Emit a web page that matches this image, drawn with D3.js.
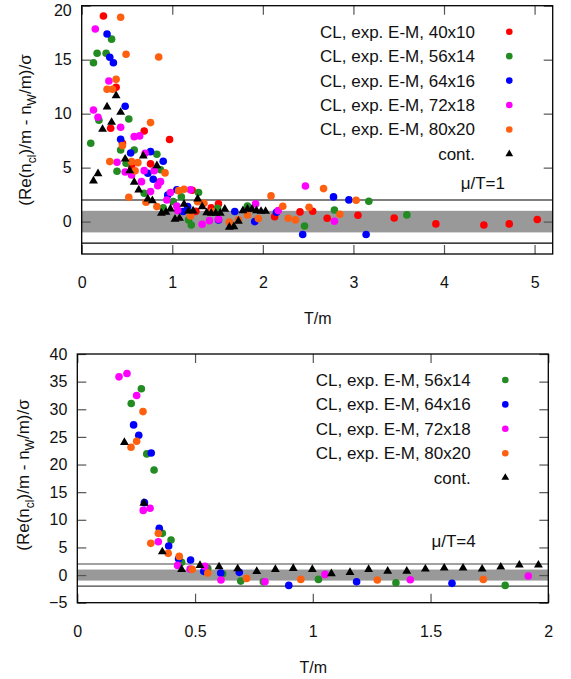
<!DOCTYPE html>
<html>
<head>
<meta charset="utf-8">
<script src="https://cdn.jsdelivr.net/npm/d3@7"></script>
<style>
  html, body { margin: 0; padding: 0; background: #fff; }
  svg { display: block; font-family: "Liberation Sans", Arial, Helvetica, sans-serif; }
</style>
</head>
<body>
<svg id="chart" width="571" height="679"></svg>
<script>
// ---------------- DATA ----------------
// Panel 1: mu/T = 1   (each entry: [T/m, value])
const mu1_40x10 = [[0.24,19.05],[0.38,12.44],[0.32,8.65],[0.45,7.26],[0.69,8.4],[0.97,7.6],[0.76,5.35],[0.86,3.67],[0.55,5.1],[1.22,2.9],[1.26,0.95],[1.43,1.27],[1.51,1.64],[2.13,0.46],[2.41,0.9],[2.55,0.96],[2.71,0.31],[3.05,0.59],[3.45,0.34],[3.91,-0.21],[4.44,-0.31],[4.72,-0.21],[5.03,0.19]];
const mu1_56x14 = [[0.13,14.72],[0.17,15.59],[0.27,15.59],[0.33,16.9],[0.10,7.26],[0.19,9.39],[0.52,9.5],[0.43,6.64],[0.39,4.67],[0.58,6.64],[0.49,5.4],[0.83,6.24],[0.87,4.8],[0.69,2.63],[0.90,1.27],[1.01,1.85],[1.10,2.31],[1.29,2.69],[1.18,0.16],[1.21,-0.31],[1.50,1.24],[1.83,1.45],[2.46,-0.4],[2.79,1.08],[3.17,1.89],[3.59,0.62]];
const mu1_64x16 = [[0.28,17.38],[0.31,15.22],[0.35,14.72],[0.48,10.68],[0.43,7.63],[0.54,6.36],[0.76,6.48],[0.73,4.48],[0.79,3.93],[0.90,5.59],[0.95,2.47],[1.05,2.94],[1.12,0.93],[1.17,1.4],[1.51,0.16],[1.69,0.93],[1.91,0.0],[2.15,0.87],[2.44,-1.2],[2.78,2.29],[2.95,2.01],[3.14,-1.2]];
const mu1_72x18 = [[0.15,17.84],[0.13,10.34],[0.18,9.67],[0.30,13.03],[0.43,8.74],[0.39,5.5],[0.58,7.87],[0.64,7.94],[0.48,4.6],[0.55,4.32],[0.66,3.7],[0.69,4.72],[0.70,6.33],[0.76,2.78],[0.80,4.72],[0.84,3.33],[0.87,3.7],[0.94,2.0],[0.98,2.69],[1.05,1.45],[1.06,1.02],[1.20,2.94],[1.33,-0.24],[1.41,0.09],[1.51,0.22],[1.92,1.64],[2.17,1.02],[2.47,3.3],[2.79,0.04]];
const mu1_80x20 = [[0.43,18.93],[0.49,15.5],[0.85,15.25],[0.38,13.18],[0.28,12.26],[0.34,12.26],[0.45,7.04],[0.76,9.17],[0.31,5.56],[0.55,5.56],[0.59,4.7],[0.62,5.46],[0.52,2.26],[0.92,4.51],[0.71,1.8],[0.83,1.39],[1.07,2.87],[1.13,3.0],[1.20,0.53],[1.28,1.85],[1.35,1.7],[1.44,0.93],[1.63,-0.05],[1.73,0.16],[1.83,0.62],[1.95,0.28],[2.09,2.38],[2.22,1.42],[2.28,0.31],[2.36,0.16],[2.51,1.33],[2.67,3.06],[2.85,0.68],[3.03,1.98]];
const mu1_cont = [[0.13,3.77],[0.18,4.44],[0.23,8.55],[0.28,10.62],[0.33,9.2],[0.38,11.67],[0.43,10.13],[0.48,5.8],[0.53,4.72],[0.58,3.65],[0.63,2.94],[0.68,6.08],[0.73,2.1],[0.78,1.94],[0.83,5.19],[0.88,0.78],[0.93,0.87],[0.98,1.18],[1.03,0.22],[1.08,0.31],[1.13,1.61],[1.18,0.99],[1.23,0.99],[1.28,2.1],[1.33,1.39],[1.38,0.83],[1.43,0.78],[1.48,0.78],[1.53,0.78],[1.58,1.15],[1.63,-0.52],[1.68,-0.46],[1.73,0.04],[1.78,1.02],[1.83,1.15],[1.88,1.15],[1.93,1.02],[1.98,0.96],[2.03,0.96]];

// Panel 2: mu/T = 4
const mu4_56x14 = [[0.229,31.03],[0.272,33.7],[0.295,21.92],[0.326,19.02],[0.361,7.55],[0.398,6.34],[0.443,2.3],[0.554,1.21],[0.617,0.24],[0.694,-1.09],[0.79,-1.2],[1.024,-0.78],[1.353,-1.39],[1.817,-1.87]];
const mu4_64x16 = [[0.239,27.17],[0.261,25.3],[0.314,22.1],[0.285,13.1],[0.348,8.46],[0.388,5.25],[0.43,2.95],[0.481,2.72],[0.537,0.67],[0.609,0.36],[0.688,0.49],[0.898,-1.87],[1.186,-1.21],[1.591,-1.5]];
const mu4_72x18 = [[0.177,35.87],[0.211,36.47],[0.252,32.5],[0.28,11.7],[0.309,12.08],[0.344,6.04],[0.426,1.75],[0.479,1.09],[0.542,1.57],[0.61,-0.9],[0.797,-1.2],[1.052,0.12],[1.414,-0.84],[1.915,-0.18]];
const mu4_80x20 = [[0.228,23.13],[0.252,24.2],[0.279,29.58],[0.312,5.74],[0.344,7.55],[0.386,3.93],[0.433,3.38],[0.488,1.03],[0.554,0.36],[0.719,-0.6],[0.949,-0.78],[1.274,-0.9],[1.724,-0.78]];
const mu4_cont = [[0.2,24.0],[0.283,13.0],[0.361,4.22],[0.443,1.03],[0.521,1.76],[0.602,1.5],[0.681,1.14],[0.762,0.67],[0.841,1.03],[0.917,1.21],[0.998,1.03],[1.079,0.24],[1.158,0.49],[1.237,1.03],[1.318,0.72],[1.399,0.72],[1.478,1.09],[1.558,1.27],[1.638,1.27],[1.719,1.09],[1.798,1.45],[1.877,1.81],[1.958,1.81]];

const labels1 = ["CL, exp. E-M, 40x10","CL, exp. E-M, 56x14","CL, exp. E-M, 64x16","CL, exp. E-M, 72x18","CL, exp. E-M, 80x20","cont."];
const labels4 = ["CL, exp. E-M, 56x14","CL, exp. E-M, 64x16","CL, exp. E-M, 72x18","CL, exp. E-M, 80x20","cont."];
const xTicks1 = [0,1,2,3,4,5];
const yTicks1 = [0,5,10,15,20];
const xTicks4 = [0,0.5,1,1.5,2];
const yTicks4 = [-5,0,5,10,15,20,25,30,35,40];
const bandLimits = [-1, 1];
const lineLevels = [-2, 2];

// ---------------- DRAWING ----------------
const COL = {"40x10":"#ff0000","56x14":"#228b22","64x16":"#0000ff","72x18":"#ff00ff","80x20":"#ff6010"};
const svg = d3.select("#chart");
const FS = 16;      // tick labels, axis x title
const FL = 17;      // legend and y title

function panel(cfg) {
  const g = svg.append("g");
  const x = d3.scaleLinear().domain(cfg.xdom).range([cfg.L, cfg.R]);
  const y = d3.scaleLinear().domain(cfg.ydom).range([cfg.B, cfg.T]);

  // gray band
  g.append("rect").attr("x", cfg.L).attr("width", cfg.R - cfg.L)
    .attr("y", y(bandLimits[1])).attr("height", y(bandLimits[0]) - y(bandLimits[1]))
    .attr("fill", "#999999");
  // +-2 lines
  g.selectAll("line.lev").data(lineLevels).enter().append("line")
    .attr("x1", cfg.L).attr("x2", cfg.R).attr("y1", d => y(d)).attr("y2", d => y(d))
    .attr("stroke", cfg.lineColor).attr("stroke-width", 1.2);

  // axes (inward ticks on all sides)
  const tk = 9;
  const ax = g.append("g").attr("transform", `translate(0,${cfg.B})`)
    .call(d3.axisBottom(x).tickValues(cfg.xticks).tickSize(-tk).tickPadding(23).tickFormat(d3.format("")));
  const axT = g.append("g").attr("transform", `translate(0,${cfg.T})`)
    .call(d3.axisTop(x).tickValues(cfg.xticks).tickSize(-tk).tickFormat(""));
  const ay = g.append("g").attr("transform", `translate(${cfg.L},0)`)
    .call(d3.axisLeft(y).tickValues(cfg.yticks).tickSize(-tk).tickPadding(10));
  const ayR = g.append("g").attr("transform", `translate(${cfg.R},0)`)
    .call(d3.axisRight(y).tickValues(cfg.yticks).tickSize(-tk).tickFormat(""));
  [ax, axT, ay, ayR].forEach(a => {
    a.select(".domain").remove();
    a.selectAll("line").attr("stroke", "#555").attr("stroke-width", 1.2);
    a.selectAll("text").attr("font-size", FS).attr("fill", "#111")
      .attr("font-family", '"Liberation Sans", Arial, sans-serif');
  });
  // keep the topmost y label fully inside the picture
  if (cfg.topLabelShift) {
    ay.selectAll(".tick").filter(d => d === cfg.ydom[1]).select("text")
      .attr("y", cfg.topLabelShift);
  }
  // frame
  g.append("rect").attr("x", cfg.L).attr("y", cfg.T).attr("width", cfg.R - cfg.L).attr("height", cfg.B - cfg.T)
    .attr("fill", "none").attr("stroke", "#000").attr("stroke-width", 1.3);

  // points
  cfg.series.forEach(s => {
    g.append("g").selectAll("circle").data(s.data).enter().append("circle")
      .attr("cx", d => x(d[0])).attr("cy", d => y(d[1])).attr("r", 3.8).attr("fill", COL[s.key]);
  });
  const tri = d3.symbol().type(d3.symbolTriangle).size(34);
  g.append("g").selectAll("path").data(cfg.cont).enter().append("path")
    .attr("d", tri).attr("transform", d => `translate(${x(d[0])},${y(d[1])})`).attr("fill", "#000");

  // legend
  const keys = cfg.series.map(s => s.key);
  cfg.legendLabels.forEach((lab, i) => {
    const cy = cfg.legY0 + i * cfg.legDy;
    g.append("text").attr("x", cfg.legTextX).attr("y", cy).attr("dy", "0.35em")
      .attr("text-anchor", "end").attr("font-size", FL).attr("fill", "#111").text(lab);
    if (i < keys.length) {
      g.append("circle").attr("cx", cfg.legMarkX).attr("cy", cy).attr("r", 3.3).attr("fill", COL[keys[i]]);
    } else {
      g.append("path").attr("d", d3.symbol().type(d3.symbolTriangle).size(26))
        .attr("transform", `translate(${cfg.legMarkX},${cy})`).attr("fill", "#000");
    }
  });
  g.append("text").attr("x", cfg.muX).attr("y", cfg.muY).attr("dy", "0.35em")
    .attr("text-anchor", "end").attr("font-size", FL).attr("fill", "#111").text(cfg.muText);

  // axis titles
  g.append("text").attr("x", (cfg.L + cfg.R) / 2 + 0.5).attr("y", cfg.xLabY).attr("dy", "0.35em")
    .attr("text-anchor", "middle").attr("font-size", FS).attr("fill", "#111").text("T/m");
  const yl = g.append("text").attr("transform", `translate(${cfg.yLabX},${cfg.yLabY}) rotate(-90)`)
    .attr("dy", "0.35em").attr("text-anchor", "middle").attr("font-size", FL).attr("fill", "#111");
  yl.append("tspan").text("(Re(n");
  yl.append("tspan").attr("font-size", 12).attr("dy", "0.4em").text("cl");
  yl.append("tspan").attr("dy", "-0.28em").text(")/m - n");
  yl.append("tspan").attr("font-size", 12).attr("dy", "0.4em").text("W");
  yl.append("tspan").attr("dy", "-0.28em").text("/m)/σ");
}

panel({
  L: 81.7, R: 552.7, T: 5.7, B: 254,
  xdom: [0, 5.2], ydom: [-3, 20], xticks: xTicks1, yticks: yTicks1,
  lineColor: "#000", topLabelShift: 4.5,
  series: [{key:"40x10", data: mu1_40x10},{key:"56x14", data: mu1_56x14},{key:"64x16", data: mu1_64x16},
           {key:"72x18", data: mu1_72x18},{key:"80x20", data: mu1_80x20}],
  cont: mu1_cont,
  legendLabels: labels1, legY0: 31.7, legDy: 24.45, legTextX: 475, legMarkX: 509.3,
  muText: "μ/T=1", muX: 505, muY: 182.7,
  xLabY: 318, yLabX: 25, yLabY: 130
});

panel({
  L: 77.3, R: 548.3, T: 354, B: 602.7,
  xdom: [0, 2], ydom: [-5, 40], xticks: xTicks4, yticks: yTicks4,
  lineColor: "#444",
  series: [{key:"56x14", data: mu4_56x14},{key:"64x16", data: mu4_64x16},
           {key:"72x18", data: mu4_72x18},{key:"80x20", data: mu4_80x20}],
  cont: mu4_cont,
  legendLabels: labels4, legY0: 380, legDy: 24.4, legTextX: 470.7, legMarkX: 505.3,
  muText: "μ/T=4", muX: 475.7, muY: 540.7,
  xLabY: 667, yLabX: 23, yLabY: 475
});
</script>
</body>
</html>
